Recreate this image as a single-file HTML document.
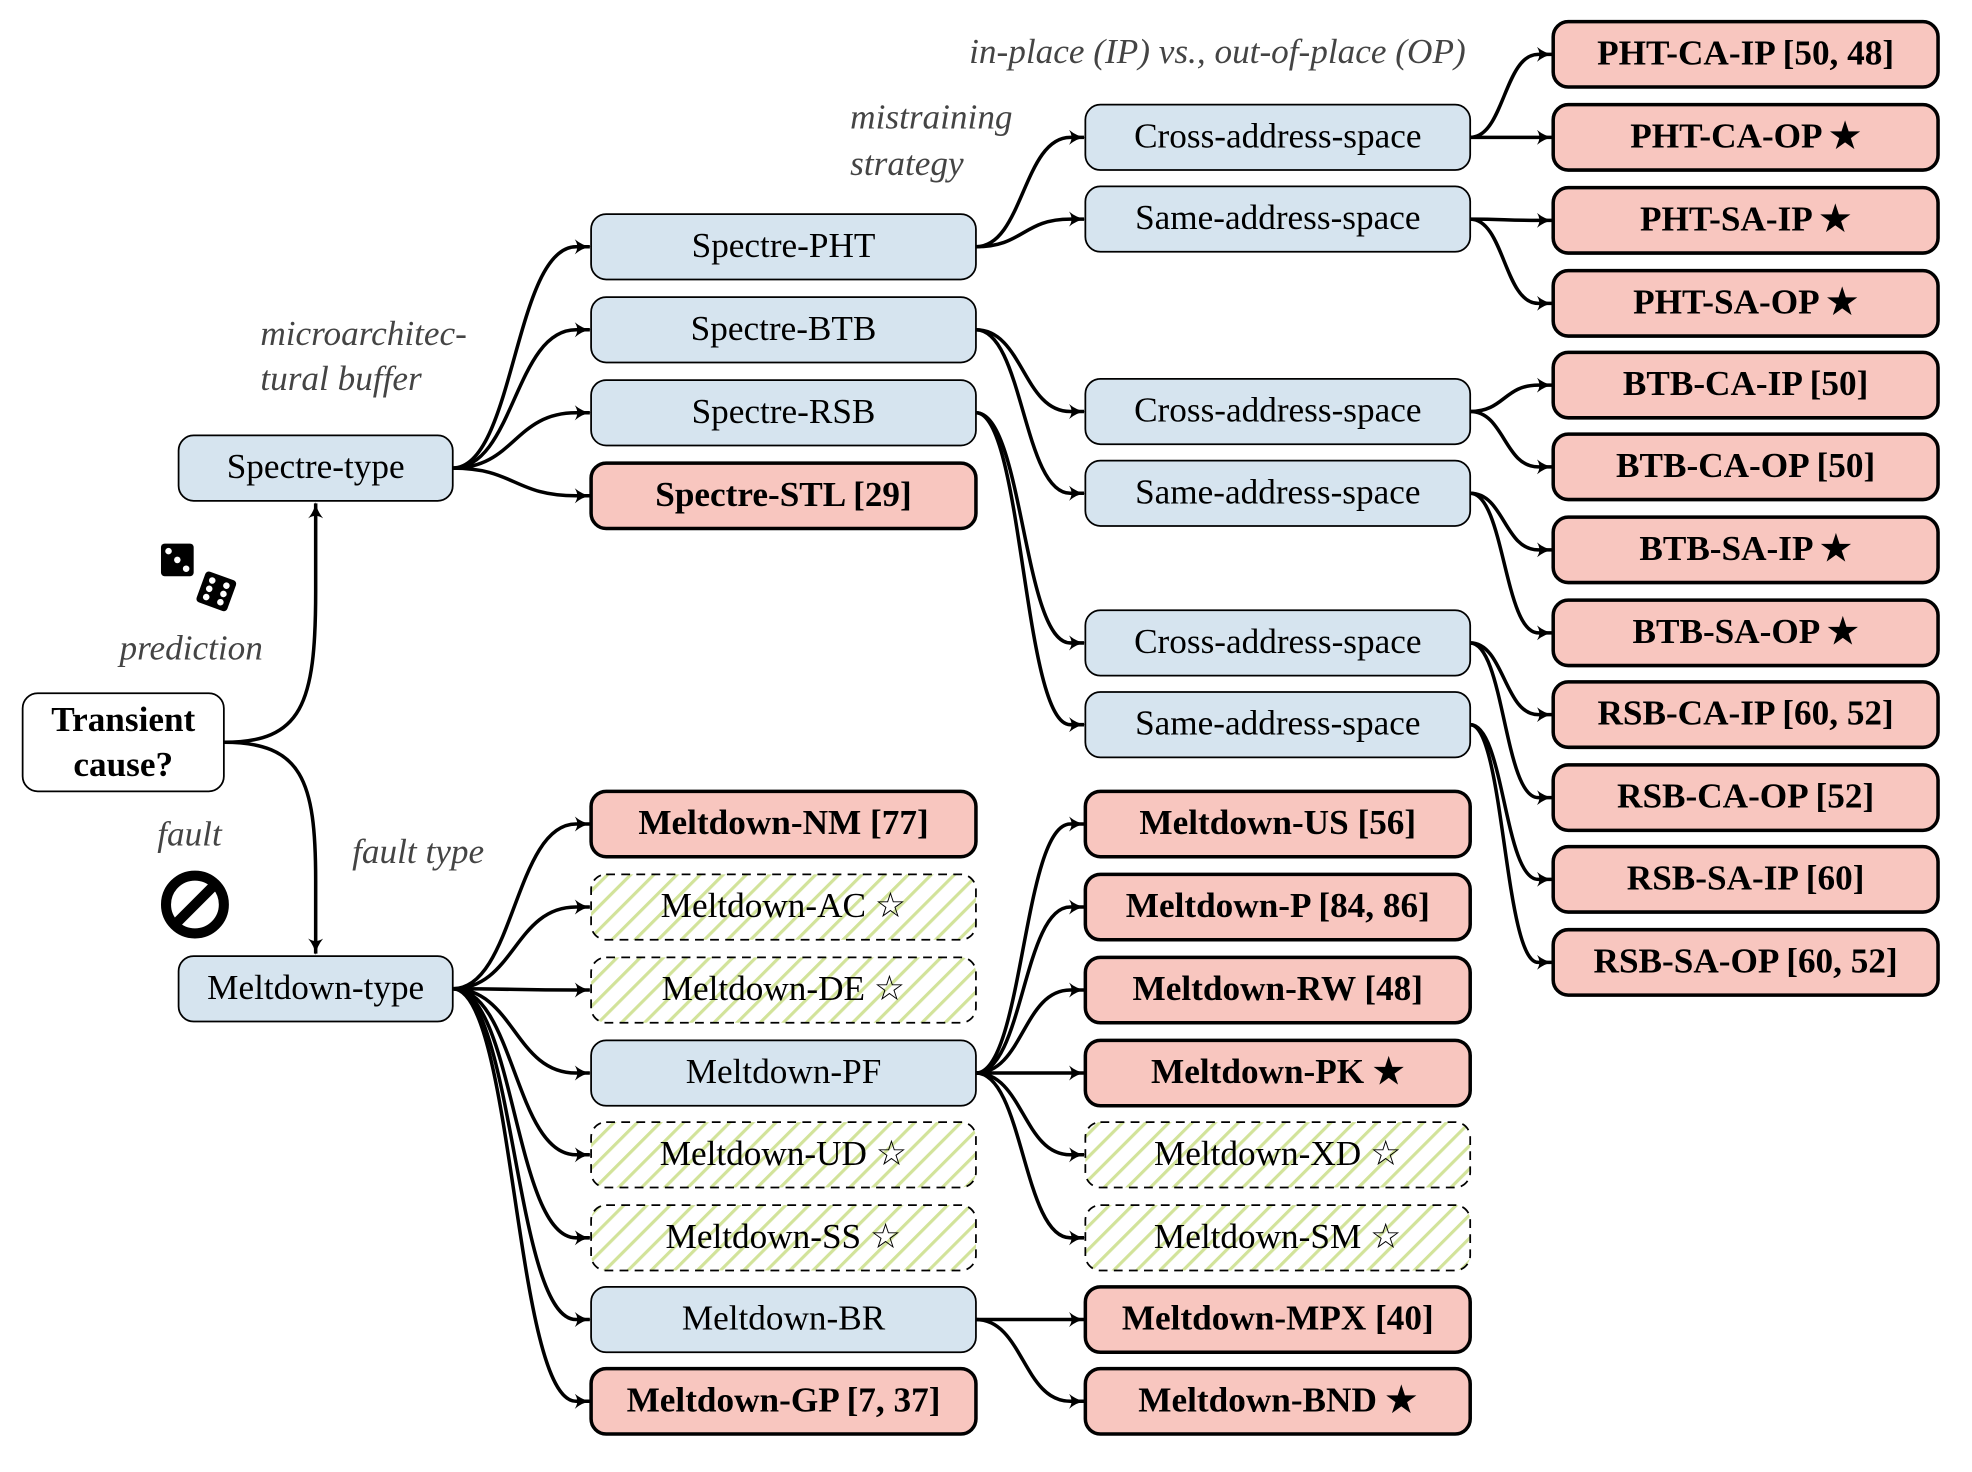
<!DOCTYPE html>
<html><head><meta charset="utf-8"><style>
html,body{margin:0;padding:0;background:#fff;}
svg{display:block;}
text{font-family:"Liberation Serif",serif;}
</style></head><body>
<svg id="s" width="1972" height="1472" viewBox="0 0 1568 1170" xmlns="http://www.w3.org/2000/svg">
<defs>
<pattern id="h" patternUnits="userSpaceOnUse" width="13" height="13" patternTransform="rotate(45)">
<rect width="13" height="13" fill="#fff"/><rect x="0" y="0" width="2.5" height="13" fill="#d2e39a"/>
</pattern>
<marker id="a" markerWidth="14" markerHeight="12" refX="12" refY="6" orient="auto" markerUnits="userSpaceOnUse">
<path d="M0,0 Q6,5 13,6 Q6,7 0,12 Q4,6 0,0Z" fill="#000"/>
</marker>
</defs>
<g id="edges" fill="none" stroke="#000" stroke-width="2.8"></g>
<g id="nodes"></g>
<g fill="#444" font-style="italic" font-size="28">
<text x="968" y="50" text-anchor="middle">in-place (IP) vs., out-of-place (OP)</text>
<text x="676" y="102">mistraining</text>
<text x="676" y="139">strategy</text>
<text x="207" y="274">microarchitec-</text>
<text x="207" y="310">tural buffer</text>
<text x="95" y="524">prediction</text>
<text x="125" y="672">fault</text>
<text x="280" y="686">fault type</text>
</g>
<g transform="translate(128,432)">
<rect x="0" y="0" width="26" height="26" rx="3" fill="#000"/>
<circle cx="6" cy="6" r="2.6" fill="#fff"/><circle cx="13" cy="13" r="2.6" fill="#fff"/><circle cx="20" cy="20" r="2.6" fill="#fff"/>
<g transform="translate(44,38) rotate(20)">
<rect x="-13" y="-13" width="26" height="26" rx="3" fill="#000"/>
<circle cx="-6" cy="-7" r="2.6" fill="#fff"/><circle cx="6" cy="-7" r="2.6" fill="#fff"/>
<circle cx="-6" cy="0" r="2.6" fill="#fff"/><circle cx="6" cy="0" r="2.6" fill="#fff"/>
<circle cx="-6" cy="7" r="2.6" fill="#fff"/><circle cx="6" cy="7" r="2.6" fill="#fff"/>
</g>
</g>
<g transform="translate(155,719)">
<circle r="23" fill="none" stroke="#000" stroke-width="8"/>
<line x1="-15" y1="15" x2="15" y2="-15" stroke="#000" stroke-width="8"/>
</g>
</svg>
<script>
var NS="http://www.w3.org/2000/svg";
var E=document.getElementById("edges"),N=document.getElementById("nodes");
function el(t,a,p,txt){var e=document.createElementNS(NS,t);for(var k in a)e.setAttribute(k,a[k]);if(txt!=null)e.textContent=txt;p.appendChild(e);return e;}
function node(x,y,w,h,type,label,bold){
 var fill=type=="b"?"#d6e4ef":type=="r"?"#f8c6bf":type=="h"?"url(#h)":"#fff";
 var a={x:x,y:y,width:w,height:h,rx:12,fill:fill,stroke:"#000","stroke-width":type=="r"?2.8:1.4};
 if(type=="h")a["stroke-dasharray"]="7 5";
 el("rect",a,N);
 if(Array.isArray(label)){label.forEach(function(l,i){el("text",{x:x+w/2,y:y+h/2+9+(i-(label.length-1)/2)*36,"text-anchor":"middle","font-size":28,"font-weight":"bold"},N,l);});}
 else el("text",{x:x+w/2,y:y+h/2+8,"text-anchor":"middle","font-size":28,"font-weight":bold?"bold":"normal"},N,label);
}
function edge(x1,y1,x2,y2){var dx=x2-x1-12;var c=dx*0.5;
 el("path",{d:"M"+x1+","+y1+" C"+(x1+c)+","+y1+" "+(x2-12-c)+","+y2+" "+(x2-12)+","+y2+" L"+(x2-1)+","+y2,"marker-end":"url(#a)"},E);}
el("path",{d:"M178,590 C240,590 251,560 251,470 L251,400","marker-end":"url(#a)"},E);
el("path",{d:"M178,590 C240,590 251,620 251,700 L251,758","marker-end":"url(#a)"},E);
[196,262,328,394].forEach(function(y){edge(360,372,470,y);});
[655,721,787,853,918,984,1049,1114].forEach(function(y){edge(360,786,470,y);});
edge(776,196,863,109);edge(776,196,863,174);
edge(776,262,863,327);edge(776,262,863,392);
edge(776,328,863,511);edge(776,328,863,576);
[655,721,787,853,918,984].forEach(function(y){edge(776,853,863,y);});
edge(776,1049,863,1049);edge(776,1049,863,1114);
var c4=[43,109,175,241,306,371,437,503,568,634,699,765];
var c3=[109,174,327,392,511,576];
c3.forEach(function(y,i){edge(1169,y,1235,c4[2*i]);edge(1169,y,1235,c4[2*i+1]);});
node(18,551,160,78,"w",["Transient","cause?"]);
node(142,346,218,52,"b","Spectre-type");
node(142,760,218,52,"b","Meltdown-type");
var c2=[["Spectre-PHT","b",196],["Spectre-BTB","b",262],["Spectre-RSB","b",328],["Spectre-STL [29]","r",394],
["Meltdown-NM [77]","r",655],["Meltdown-AC \u2606","h",721],["Meltdown-DE \u2606","h",787],["Meltdown-PF","b",853],
["Meltdown-UD \u2606","h",918],["Meltdown-SS \u2606","h",984],["Meltdown-BR","b",1049],["Meltdown-GP [7, 37]","r",1114]];
c2.forEach(function(n){node(470,n[2]-26,306,52,n[1],n[0],n[1]=="r");});
var c3n=[["Cross-address-space","b",109],["Same-address-space","b",174],["Cross-address-space","b",327],["Same-address-space","b",392],["Cross-address-space","b",511],["Same-address-space","b",576],
["Meltdown-US [56]","r",655],["Meltdown-P [84, 86]","r",721],["Meltdown-RW [48]","r",787],["Meltdown-PK \u2605","r",853],["Meltdown-XD \u2606","h",918],["Meltdown-SM \u2606","h",984],["Meltdown-MPX [40]","r",1049],["Meltdown-BND \u2605","r",1114]];
c3n.forEach(function(n){node(863,n[2]-26,306,52,n[1],n[0],n[1]=="r");});
var l4=["PHT-CA-IP [50, 48]","PHT-CA-OP \u2605","PHT-SA-IP \u2605","PHT-SA-OP \u2605","BTB-CA-IP [50]","BTB-CA-OP [50]","BTB-SA-IP \u2605","BTB-SA-OP \u2605","RSB-CA-IP [60, 52]","RSB-CA-OP [52]","RSB-SA-IP [60]","RSB-SA-OP [60, 52]"];
l4.forEach(function(l,i){node(1235,c4[i]-26,306,52,"r",l,true);});
</script>
</body></html>
